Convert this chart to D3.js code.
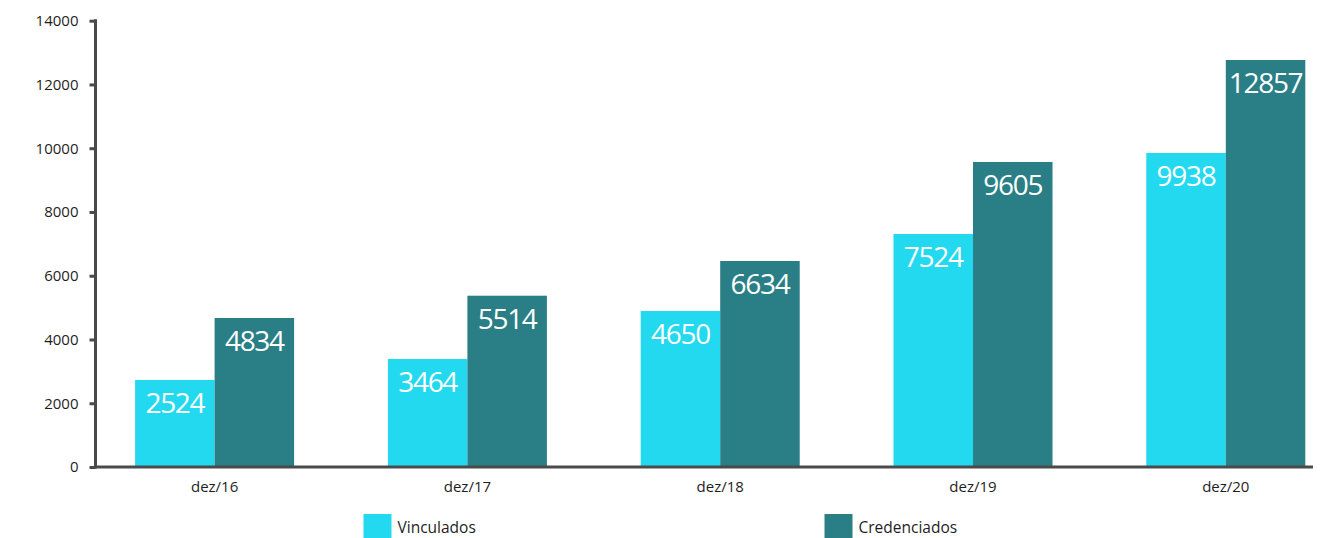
<!DOCTYPE html>
<html>
<head>
<meta charset="utf-8">
<script src="https://cdn.jsdelivr.net/npm/d3@7"></script>
<style>
  html, body { margin: 0; padding: 0; background: #fff; }
  svg { display: block; }
  text { font-family: "Open Sans", "Noto Sans", sans-serif; }
</style>
</head>
<body>
<svg id="chart" width="1324" height="538"></svg>
<script>
// ---- data ----
const categories = ["dez/16", "dez/17", "dez/18", "dez/19", "dez/20"];
const seriesNames = ["Vinculados", "Credenciados"];
// bar heights as drawn in the reference
const vinculados = [2729, 3388, 4893, 7309, 9850];
const credenciados = [4674, 5373, 6462, 9568, 12767];
// value labels printed on the bars
const vinculadosLabels = ["2524", "3464", "4650", "7524", "9938"];
const credenciadosLabels = ["4834", "5514", "6634", "9605", "12857"];
const yTicks = [0, 2000, 4000, 6000, 8000, 10000, 12000, 14000];

const colors = ["#23D9F0", "#297F85"];
const axisColor = "#4a4a4a";
const textColor = "#1e1e1e";

const svg = d3.select("#chart");

const y = d3.scaleLinear().domain([0, 14000]).range([467, 20.7]);
const x0 = d3.scaleBand().domain(categories)
  .range([88.2, 1352.2]).paddingInner(0.371).paddingOuter(0.1855);
const x1 = d3.scaleBand().domain(seriesNames).range([0, x0.bandwidth()]);

const rows = categories.map((c, i) => ({
  cat: c,
  vals: [
    { s: seriesNames[0], v: vinculados[i], label: vinculadosLabels[i] },
    { s: seriesNames[1], v: credenciados[i], label: credenciadosLabels[i] }
  ]
}));

// bars
const g = svg.append("g");
const groups = g.selectAll("g.grp").data(rows).enter().append("g")
  .attr("transform", d => `translate(${x0(d.cat)},0)`);

groups.selectAll("rect").data(d => d.vals).enter().append("rect")
  .attr("x", d => x1(d.s))
  .attr("width", x1.bandwidth())
  .attr("y", d => y(d.v))
  .attr("height", d => y(0) - y(d.v))
  .attr("fill", (d, i) => colors[i]);

groups.selectAll("text.val").data(d => d.vals).enter().append("text")
  .attr("class", "val")
  .attr("x", d => x1(d.s) + x1.bandwidth() / 2)
  .attr("y", d => y(d.v) + 33)
  .attr("text-anchor", "middle")
  .attr("fill", "#fff")
  .style("font-size", "28px")
  .style("letter-spacing", "-1.3px")
  .text(d => d.label);

// y axis
const yAxis = d3.axisLeft(y).tickValues(yTicks).tickSize(6).tickPadding(11)
  .tickFormat(d3.format("d"));
const ya = svg.append("g").attr("transform", "translate(95.5,0)").call(yAxis);
ya.select(".domain").remove();
ya.selectAll(".tick line").attr("stroke", axisColor).attr("stroke-width", 3);
ya.selectAll(".tick text").attr("fill", textColor)
  .style("font-size", "15px").style("font-family", "'Open Sans', sans-serif");
svg.append("line").attr("x1", 95.5).attr("x2", 95.5)
  .attr("y1", y(14000) - 1.5).attr("y2", y(0) + 1.5)
  .attr("stroke", axisColor).attr("stroke-width", 3);

// x axis
const xAxis = d3.axisBottom(x0).tickSize(0).tickPadding(14);
const xa = svg.append("g").attr("transform", `translate(0,${y(0)})`).call(xAxis);
xa.select(".domain").remove();
xa.selectAll(".tick text").attr("fill", textColor)
  .style("font-size", "15px").style("font-weight", "500")
  .style("font-family", "'Open Sans', sans-serif");
svg.append("line").attr("x1", 94).attr("x2", 1313)
  .attr("y1", y(0)).attr("y2", y(0))
  .attr("stroke", axisColor).attr("stroke-width", 3);

// legend
const legendX = [363.5, 824.5];
const lg = svg.selectAll("g.leg").data(seriesNames).enter().append("g")
  .attr("transform", (d, i) => `translate(${legendX[i]},514)`);
lg.append("rect").attr("width", 28).attr("height", 26)
  .attr("fill", (d, i) => colors[i]);
lg.append("text").attr("x", 34).attr("y", 19)
  .attr("fill", textColor).style("font-size", "15.5px")
  .text(d => d);
</script>
</body>
</html>
